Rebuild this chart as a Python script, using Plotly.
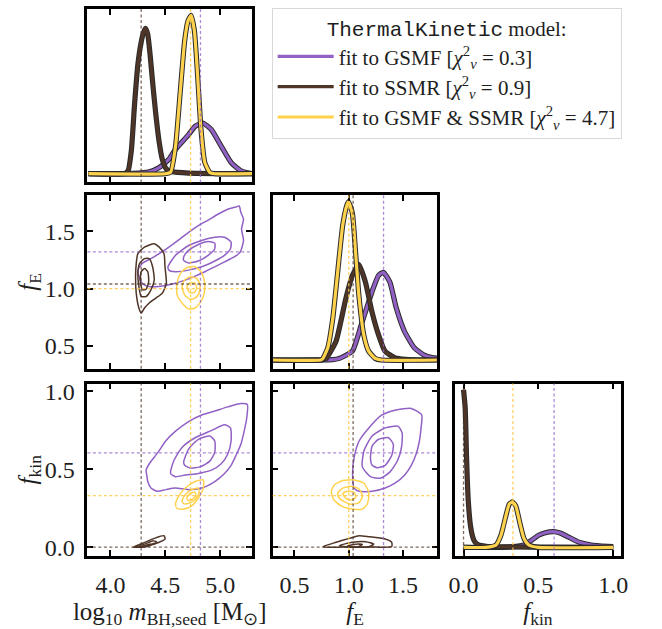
import plotly.graph_objects as go

# ---------------- best-fit parameters of the three fits ----------------
fit_names = ["GSMF", "SSMR", "GSMF &amp; SSMR"]
chi2_nu = [0.3, 0.9, 4.7]
best_mseed = [4.82, 4.28, 4.73]
best_fE = [1.32, 1.04, 1.00]
best_fkin = [0.605, 0.0, 0.33]

# tick values
mseed_ticks = [4.0, 4.5, 5.0]
fE_ticks = [0.5, 1.0, 1.5]
fkin_ticks = [0.0, 0.5, 1.0]

# ---------------- 1D marginal posteriors (peak-normalised) ----------------
gsmf_mseed_x = [3.80, 4.20, 4.354, 4.444, 4.533, 4.593, 4.712, 4.771, 4.840, 4.920, 5.009, 5.099, 5.188, 5.262, 5.30]
gsmf_mseed_p = [0.0, 0.002, 0.012, 0.039, 0.091, 0.154, 0.247, 0.299, 0.320, 0.278, 0.174, 0.071, 0.019, 0.004, 0.001]
ssmr_mseed_x = [3.80, 4.131, 4.161, 4.191, 4.220, 4.250, 4.280, 4.301, 4.319, 4.340, 4.360, 4.384, 4.414, 4.444, 4.473, 4.509, 4.563, 4.712, 5.30]
ssmr_mseed_p = [0.0, 0.0, 0.02, 0.15, 0.44, 0.69, 0.83, 0.89, 0.917, 0.88, 0.76, 0.58, 0.37, 0.20, 0.09, 0.03, 0.012, 0.004, 0.0]
both_mseed_x = [3.80, 4.50, 4.548, 4.593, 4.637, 4.676, 4.706, 4.735, 4.765, 4.795, 4.825, 4.860, 4.905, 4.95, 5.30]
both_mseed_p = [0.0, 0.0, 0.01, 0.174, 0.527, 0.838, 0.963, 1.0, 0.90, 0.61, 0.278, 0.07, 0.008, 0.0, 0.0]

gsmf_fE_x = [0.30, 0.85, 0.913, 1.033, 1.115, 1.213, 1.273, 1.318, 1.378, 1.438, 1.513, 1.603, 1.693, 1.768, 1.81]
gsmf_fE_p = [0.0, 0.002, 0.01, 0.056, 0.222, 0.429, 0.533, 0.554, 0.492, 0.326, 0.18, 0.077, 0.031, 0.015, 0.012]
ssmr_fE_x = [0.30, 0.76, 0.792, 0.883, 0.973, 1.033, 1.093, 1.153, 1.213, 1.273, 1.333, 1.423, 1.52, 1.81]
ssmr_fE_p = [0.0, 0.002, 0.01, 0.118, 0.388, 0.533, 0.602, 0.492, 0.305, 0.160, 0.056, 0.015, 0.004, 0.0]
both_fE_x = [0.30, 0.74, 0.762, 0.807, 0.853, 0.898, 0.943, 0.979, 0.997, 1.033, 1.063, 1.093, 1.138, 1.183, 1.243, 1.30, 1.81]
both_fE_p = [0.0, 0.0, 0.01, 0.077, 0.263, 0.554, 0.844, 0.969, 1.0, 0.927, 0.678, 0.409, 0.16, 0.056, 0.01, 0.0, 0.0]

gsmf_fkin_x = [0.0, 0.30, 0.404, 0.447, 0.502, 0.546, 0.601, 0.645, 0.70, 0.765, 0.853, 0.963, 1.0]
gsmf_fkin_p = [0.0, 0.001, 0.015, 0.04, 0.077, 0.093, 0.10, 0.091, 0.066, 0.035, 0.015, 0.006, 0.004]
ssmr_fkin_x = [0.0, 0.011, 0.020, 0.031, 0.046, 0.060, 0.075, 0.10, 0.15, 0.30, 0.60, 1.0]
ssmr_fkin_p = [1.0, 0.886, 0.575, 0.305, 0.139, 0.07, 0.035, 0.015, 0.007, 0.003, 0.001, 0.0]
both_fkin_x = [0.0, 0.15, 0.217, 0.25, 0.283, 0.305, 0.327, 0.349, 0.375, 0.404, 0.436, 0.50, 1.0]
both_fkin_p = [0.0, 0.0, 0.015, 0.077, 0.20, 0.274, 0.288, 0.263, 0.16, 0.056, 0.015, 0.0, 0.0]

# ---------------- 2D credible-region contours (outer, middle, inner) ----------------
# log10 m_seed vs f_E
gsmf_mseed_fE_x = [
    [4.250, 4.295, 4.369, 4.444, 4.533, 4.622, 4.712, 4.801, 4.890, 4.979, 5.069, 5.143, 5.173, 5.188, 5.212, 5.194, 5.212, 5.182, 5.128, 5.039, 4.950, 4.860, 4.771, 4.667, 4.563, 4.473, 4.354, 4.295, 4.265],
    [4.524, 4.593, 4.712, 4.831, 4.950, 5.039, 5.099, 5.093, 5.039, 4.950, 4.831, 4.712, 4.593, 4.533],
    [4.667, 4.712, 4.801, 4.890, 4.950, 4.950, 4.890, 4.801, 4.712, 4.667]]
gsmf_mseed_fE_y = [
    [1.161, 1.224, 1.261, 1.305, 1.362, 1.425, 1.491, 1.549, 1.598, 1.649, 1.693, 1.713, 1.721, 1.664, 1.606, 1.520, 1.420, 1.319, 1.276, 1.233, 1.190, 1.147, 1.109, 1.069, 1.040, 1.023, 1.017, 1.040, 1.089],
    [1.190, 1.290, 1.376, 1.420, 1.448, 1.448, 1.405, 1.348, 1.290, 1.241, 1.190, 1.161, 1.147, 1.161],
    [1.276, 1.333, 1.385, 1.411, 1.397, 1.348, 1.290, 1.241, 1.224, 1.247]]
ssmr_mseed_fE_x = [
    [4.250, 4.310, 4.399, 4.444, 4.488, 4.497, 4.509, 4.473, 4.414, 4.354, 4.310, 4.280, 4.259, 4.235, 4.229, 4.235],
    [4.265, 4.310, 4.354, 4.384, 4.399, 4.369, 4.325, 4.280, 4.259, 4.250],
    [4.280, 4.310, 4.340, 4.348, 4.325, 4.295, 4.274, 4.274]]
ssmr_mseed_fE_y = [
    [1.305, 1.362, 1.391, 1.362, 1.305, 1.190, 1.046, 0.960, 0.917, 0.874, 0.830, 0.787, 0.830, 0.960, 1.103, 1.218],
    [1.218, 1.261, 1.261, 1.190, 1.075, 0.989, 0.931, 0.931, 1.017, 1.132],
    [1.147, 1.175, 1.147, 1.060, 0.994, 0.989, 1.046, 1.118]]
both_mseed_fE_x = [
    [4.607, 4.637, 4.697, 4.771, 4.831, 4.860, 4.854, 4.825, 4.771, 4.712, 4.652, 4.607],
    [4.652, 4.676, 4.726, 4.786, 4.816, 4.807, 4.771, 4.721, 4.676],
    [4.697, 4.726, 4.771, 4.786, 4.765, 4.721]]
both_mseed_fE_y = [
    [1.046, 1.132, 1.184, 1.190, 1.138, 1.046, 0.960, 0.888, 0.830, 0.822, 0.874, 0.945],
    [1.017, 1.075, 1.103, 1.089, 1.032, 0.960, 0.917, 0.908, 0.945],
    [1.017, 1.052, 1.046, 1.003, 0.966, 0.966]]

# log10 m_seed vs f_kin
gsmf_mseed_fkin_x = [
    [4.325, 4.354, 4.399, 4.444, 4.503, 4.593, 4.712, 4.831, 4.950, 5.069, 5.188, 5.247, 5.241, 5.218, 5.188, 5.143, 5.099, 5.039, 4.950, 4.831, 4.712, 4.593, 4.503, 4.429, 4.369, 4.340, 4.331],
    [4.548, 4.578, 4.652, 4.771, 4.920, 5.039, 5.093, 5.099, 5.069, 5.009, 4.920, 4.801, 4.682, 4.593],
    [4.667, 4.712, 4.801, 4.905, 4.950, 4.950, 4.905, 4.816, 4.726, 4.676]]
gsmf_mseed_fkin_y = [
    [0.494, 0.535, 0.577, 0.619, 0.681, 0.744, 0.806, 0.848, 0.873, 0.900, 0.921, 0.915, 0.827, 0.744, 0.660, 0.588, 0.525, 0.473, 0.421, 0.379, 0.369, 0.379, 0.369, 0.358, 0.379, 0.421, 0.463],
    [0.473, 0.556, 0.640, 0.702, 0.748, 0.785, 0.765, 0.681, 0.598, 0.535, 0.494, 0.473, 0.463, 0.452],
    [0.546, 0.629, 0.692, 0.713, 0.681, 0.608, 0.552, 0.515, 0.508, 0.525]]
ssmr_mseed_fkin_x = [
    [4.206, 4.295, 4.399, 4.488, 4.497, 4.444, 4.354, 4.265],
    [4.235, 4.310, 4.384, 4.420, 4.369, 4.295],
    [4.265, 4.325, 4.369, 4.354, 4.295]]
ssmr_mseed_fkin_y = [
    [0.0, 0.025, 0.056, 0.073, 0.052, 0.031, 0.010, 0.0],
    [0.0, 0.019, 0.040, 0.035, 0.015, 0.0],
    [0.0, 0.0125, 0.021, 0.008, 0.0]]
both_mseed_fkin_x = [
    [4.593, 4.622, 4.682, 4.771, 4.846, 4.846, 4.801, 4.741, 4.667, 4.607],
    [4.652, 4.682, 4.741, 4.801, 4.807, 4.771, 4.712, 4.667],
    [4.697, 4.726, 4.771, 4.777, 4.747, 4.706]]
both_mseed_fkin_y = [
    [0.275, 0.327, 0.379, 0.421, 0.431, 0.379, 0.317, 0.265, 0.244, 0.248],
    [0.296, 0.338, 0.369, 0.379, 0.348, 0.306, 0.281, 0.279],
    [0.317, 0.344, 0.352, 0.331, 0.306, 0.300]]

# f_E vs f_kin
gsmf_fE_fkin_x = [
    [1.050, 1.035, 1.050, 1.095, 1.185, 1.305, 1.425, 1.575, 1.671, 1.665, 1.650, 1.620, 1.575, 1.515, 1.425, 1.335, 1.215, 1.095],
    [1.125, 1.140, 1.215, 1.335, 1.455, 1.491, 1.485, 1.449, 1.380, 1.290, 1.200],
    [1.200, 1.215, 1.275, 1.365, 1.410, 1.395, 1.335, 1.260, 1.215]]
gsmf_fE_fkin_y = [
    [0.379, 0.473, 0.577, 0.681, 0.765, 0.848, 0.879, 0.890, 0.848, 0.765, 0.681, 0.598, 0.525, 0.463, 0.410, 0.379, 0.358, 0.358],
    [0.515, 0.619, 0.713, 0.765, 0.775, 0.733, 0.640, 0.556, 0.483, 0.442, 0.452],
    [0.567, 0.650, 0.692, 0.702, 0.660, 0.588, 0.525, 0.510, 0.525]]
ssmr_fE_fkin_x = [
    [0.764, 0.884, 1.005, 1.095, 1.185, 1.335, 1.395, 1.395, 1.245, 0.944, 0.779],
    [0.914, 1.035, 1.155, 1.230, 1.185, 1.005],
    [0.989, 1.065, 1.125, 1.095, 1.020]]
ssmr_fE_fkin_y = [
    [0.004, 0.031, 0.056, 0.073, 0.067, 0.052, 0.031, 0.004, 0.0, 0.0, 0.0],
    [0.010, 0.031, 0.035, 0.019, 0.002, 0.0],
    [0.008, 0.019, 0.017, 0.004, 0.002]]
both_fE_fkin_x = [
    [0.839, 0.869, 0.944, 1.050, 1.140, 1.185, 1.170, 1.125, 1.035, 0.929, 0.860],
    [0.899, 0.944, 1.020, 1.095, 1.125, 1.095, 1.020, 0.944, 0.905],
    [0.944, 0.989, 1.050, 1.065, 1.035, 0.980]]
both_fE_fkin_y = [
    [0.358, 0.400, 0.427, 0.431, 0.410, 0.348, 0.275, 0.244, 0.244, 0.265, 0.306],
    [0.348, 0.379, 0.390, 0.373, 0.327, 0.285, 0.275, 0.296, 0.323],
    [0.344, 0.358, 0.352, 0.323, 0.302, 0.310]]

# ---------------- styling ----------------
SERIF = "Liberation Serif"
MONO = "Liberation Mono"
colors = ["#9161c5", "#4f3527", "#ffd24d"]
dash_colors = ["rgba(145,97,197,0.75)", "rgba(79,53,39,0.75)", "rgba(255,200,70,0.85)"]
OUTLINE = "#2a2a2a"

W, H = 662, 629
col_px = [(83, 251), (272, 440), (458, 627)]
row_px = [(4, 180), (193, 369), (384, 559)]

mseed_range = [3.79, 5.29]
fE_range = [0.30, 1.815]
fkin_range = [-0.057, 1.05]
pdf_range = [-0.055, 1.04]


def xdom(c):
    a, b = col_px[c]
    return [a / W, b / W]


def ydom(r):
    a, b = row_px[r]
    return [1 - b / H, 1 - a / H]


fig = go.Figure()

# panel -> (axis index, row, col)
panels = {"m": (1, 0, 0), "mE": (2, 1, 0), "E": (3, 1, 1),
          "mk": (4, 2, 0), "Ek": (5, 2, 1), "k": (6, 2, 2)}


def ax(i):
    return ("x" if i == 1 else f"x{i}"), ("y" if i == 1 else f"y{i}")


def closed(v):
    return list(v) + [v[0]]


def add_pdf(panel, xs, ps, k, legend=False):
    xa, ya = ax(panels[panel][0])
    fig.add_trace(go.Scatter(x=xs, y=ps, mode="lines", xaxis=xa, yaxis=ya,
                             line=dict(color=OUTLINE, width=5.2, shape="spline", smoothing=0.5),
                             showlegend=False, hoverinfo="skip"))
    fig.add_trace(go.Scatter(x=xs, y=ps, mode="lines", xaxis=xa, yaxis=ya,
                             line=dict(color=colors[k], width=3.2, shape="spline", smoothing=0.5),
                             showlegend=legend, legendgroup=f"fit{k}",
                             name=f"fit to {fit_names[k]} [<i>χ</i><sup>2</sup><sub><i>ν</i></sub> = {chi2_nu[k]}]"))


def add_contours(panel, xs_list, ys_list, k):
    xa, ya = ax(panels[panel][0])
    for xs, ys in zip(xs_list, ys_list):
        fig.add_trace(go.Scatter(x=closed(xs), y=closed(ys), mode="lines", xaxis=xa, yaxis=ya,
                                 line=dict(color=colors[k], width=1.5, shape="spline", smoothing=0.6),
                                 showlegend=False, hoverinfo="skip"))


pdfs_m = [(gsmf_mseed_x, gsmf_mseed_p), (ssmr_mseed_x, ssmr_mseed_p), (both_mseed_x, both_mseed_p)]
pdfs_E = [(gsmf_fE_x, gsmf_fE_p), (ssmr_fE_x, ssmr_fE_p), (both_fE_x, both_fE_p)]
pdfs_k = [(gsmf_fkin_x, gsmf_fkin_p), (ssmr_fkin_x, ssmr_fkin_p), (both_fkin_x, both_fkin_p)]
cont_mE = [(gsmf_mseed_fE_x, gsmf_mseed_fE_y), (ssmr_mseed_fE_x, ssmr_mseed_fE_y), (both_mseed_fE_x, both_mseed_fE_y)]
cont_mk = [(gsmf_mseed_fkin_x, gsmf_mseed_fkin_y), (ssmr_mseed_fkin_x, ssmr_mseed_fkin_y), (both_mseed_fkin_x, both_mseed_fkin_y)]
cont_Ek = [(gsmf_fE_fkin_x, gsmf_fE_fkin_y), (ssmr_fE_fkin_x, ssmr_fE_fkin_y), (both_fE_fkin_x, both_fE_fkin_y)]

for k in range(3):
    add_pdf("m", *pdfs_m[k], k, legend=True)
    add_pdf("E", *pdfs_E[k], k)
    add_pdf("k", *pdfs_k[k], k)
    add_contours("mE", *cont_mE[k], k)
    add_contours("mk", *cont_mk[k], k)
    add_contours("Ek", *cont_Ek[k], k)

# best-fit marker lines
shapes = []


def vline(panel, x, k):
    xa, ya = ax(panels[panel][0])
    shapes.append(dict(type="line", xref=xa, yref=f"{ya} domain", x0=x, x1=x, y0=0, y1=1,
                       line=dict(color=dash_colors[k], width=1.3, dash="3px,2.5px"), layer="above"))


def hline(panel, y, k):
    xa, ya = ax(panels[panel][0])
    shapes.append(dict(type="line", xref=f"{xa} domain", yref=ya, x0=0, x1=1, y0=y, y1=y,
                       line=dict(color=dash_colors[k], width=1.3, dash="3px,2.5px"), layer="above"))


for k in range(3):
    vline("m", best_mseed[k], k)
    vline("mE", best_mseed[k], k)
    hline("mE", best_fE[k], k)
    vline("E", best_fE[k], k)
    vline("mk", best_mseed[k], k)
    hline("mk", best_fkin[k], k)
    vline("Ek", best_fE[k], k)
    hline("Ek", best_fkin[k], k)
    vline("k", best_fkin[k], k)

TICK_SIZE = 24
titlefont = dict(family=SERIF, size=25, color="#1e1e1e")
frame = dict(showline=True, linewidth=2.6, linecolor="black", showgrid=False, zeroline=False)


def axis_kw(rng, tickvals, labels, title=None, ticks=True, standoff=3):
    d = dict(frame, range=rng, ticklabelstandoff=5,
             tickfont=dict(family=SERIF, size=TICK_SIZE, color="#1e1e1e"))
    if ticks:
        d.update(mirror="ticks", ticks="inside", ticklen=6, tickwidth=1.6, tickcolor="black",
                 tickvals=tickvals, ticktext=[f"{v:.1f}" for v in tickvals])
    else:
        d.update(mirror=True, ticks="", showticklabels=False)
    d["showticklabels"] = labels if ticks else False
    if title:
        d["title"] = dict(text=title, font=titlefont, standoff=standoff)
    return d


m_title = "log<sub>10</sub> <i>m</i><sub>BH,seed</sub> [M<sub>⊙</sub>]"
E_title = "<i>f</i><sub>E</sub>"
k_title = "<i>f</i><sub>kin</sub>"

layout = dict(
    width=W, height=H, margin=dict(l=0, r=0, t=0, b=0),
    paper_bgcolor="white", plot_bgcolor="white",
    font=dict(family=SERIF, size=TICK_SIZE, color="#1e1e1e"),
    shapes=shapes,
    legend=dict(x=271 / W, y=1 - 3 / H, xanchor="left", yanchor="top",
                bgcolor="white", bordercolor="#d8d8d8", borderwidth=1,
                font=dict(family=SERIF, size=21, color="#1e1e1e"),
                title=dict(text=f'<span style="font-family:{MONO}">ThermalKinetic</span> model:',
                           side="top center", font=dict(family=SERIF, size=21, color="#1e1e1e")),
                itemwidth=56, traceorder="normal", tracegroupgap=5),
)


def set_axes(i, xkw, ykw, r, c):
    xn = "xaxis" if i == 1 else f"xaxis{i}"
    yn = "yaxis" if i == 1 else f"yaxis{i}"
    xa, ya = ax(i)
    layout[xn] = dict(xkw, domain=xdom(c), anchor=ya)
    layout[yn] = dict(ykw, domain=ydom(r), anchor=xa)


set_axes(1, axis_kw(mseed_range, mseed_ticks, False), axis_kw(pdf_range, [], False, ticks=False), 0, 0)
set_axes(2, axis_kw(mseed_range, mseed_ticks, False), axis_kw(fE_range, fE_ticks, True, E_title, standoff=1), 1, 0)
set_axes(3, axis_kw(fE_range, fE_ticks, False), axis_kw(pdf_range, [], False, ticks=False), 1, 1)
set_axes(4, axis_kw(mseed_range, mseed_ticks, True, m_title), axis_kw(fkin_range, fkin_ticks, True, k_title, standoff=1), 2, 0)
set_axes(5, axis_kw(fE_range, fE_ticks, True, E_title), axis_kw(fkin_range, fkin_ticks, False), 2, 1)
set_axes(6, axis_kw(fkin_range, fkin_ticks, True, k_title), axis_kw(pdf_range, [], False, ticks=False), 2, 2)

fig.update_layout(**layout)
fig.write_html("out.html")
